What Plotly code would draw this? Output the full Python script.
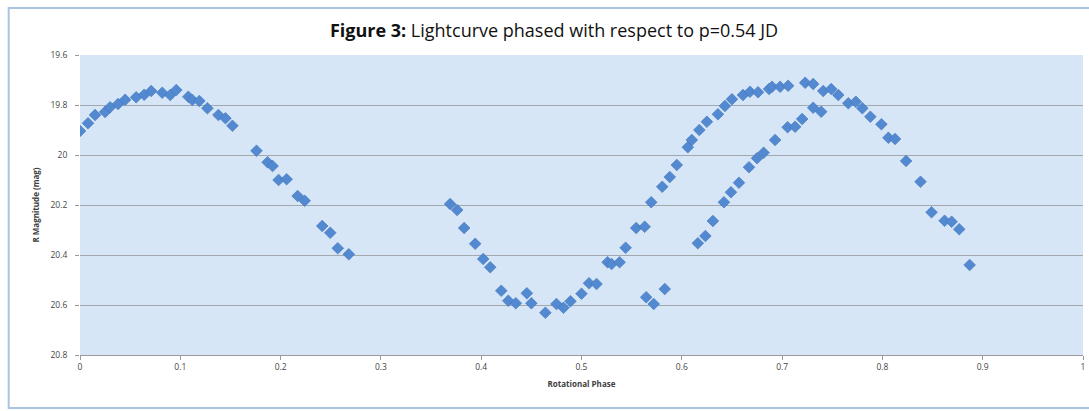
import plotly.graph_objects as go

phase = [0.000, 0.008, 0.015, 0.025, 0.030, 0.038, 0.045, 0.056, 0.064, 0.071, 0.082, 0.090, 0.096,
         0.108, 0.112, 0.119, 0.127, 0.138, 0.145, 0.152,
         0.176, 0.187, 0.192, 0.198, 0.206, 0.217, 0.224, 0.2415, 0.2495, 0.257, 0.268,
         0.369, 0.376, 0.383, 0.394, 0.402, 0.409, 0.420, 0.427, 0.4345, 0.4455, 0.450, 0.464,
         0.475, 0.482, 0.489, 0.500, 0.5075, 0.515, 0.526, 0.530, 0.538, 0.544, 0.5545, 0.563,
         0.5695, 0.5805, 0.588, 0.595, 0.606, 0.610, 0.6175, 0.625, 0.636, 0.643, 0.650, 0.661,
         0.668, 0.676, 0.687, 0.690, 0.698, 0.706, 0.723, 0.731, 0.741, 0.749, 0.756, 0.766,
         0.7735, 0.780, 0.788, 0.799, 0.806, 0.8126, 0.8236, 0.838, 0.849, 0.862, 0.869, 0.8766, 0.887,
         0.5645, 0.572, 0.583, 0.616, 0.6235, 0.631, 0.642, 0.649, 0.657, 0.667, 0.675, 0.6816,
         0.693, 0.7055, 0.713, 0.720, 0.731, 0.739]
magnitude = [19.904, 19.873, 19.840, 19.828, 19.809, 19.796, 19.779, 19.769, 19.759, 19.744, 19.751, 19.760, 19.740,
             19.767, 19.780, 19.784, 19.813, 19.840, 19.853, 19.883,
             19.983, 20.029, 20.044, 20.100, 20.097, 20.164, 20.183, 20.284, 20.311, 20.373, 20.397,
             20.196, 20.220, 20.292, 20.355, 20.416, 20.449, 20.543, 20.583, 20.593, 20.553, 20.593, 20.631,
             20.596, 20.611, 20.585, 20.555, 20.513, 20.516, 20.429, 20.436, 20.429, 20.371, 20.292, 20.287,
             20.189, 20.127, 20.088, 20.040, 19.969, 19.940, 19.900, 19.867, 19.837, 19.804, 19.777, 19.760,
             19.747, 19.749, 19.736, 19.727, 19.727, 19.723, 19.711, 19.716, 19.744, 19.736, 19.760, 19.793,
             19.787, 19.813, 19.847, 19.877, 19.931, 19.936, 20.024, 20.107, 20.229, 20.263, 20.267, 20.297, 20.440,
             20.569, 20.596, 20.536, 20.353, 20.324, 20.264, 20.189, 20.149, 20.111, 20.049, 20.013, 19.991,
             19.940, 19.889, 19.887, 19.856, 19.811, 19.827]

x_ticks = [0, 0.1, 0.2, 0.3, 0.4, 0.5, 0.6, 0.7, 0.8, 0.9, 1]
x_tick_labels = ["0", "0.1", "0.2", "0.3", "0.4", "0.5", "0.6", "0.7", "0.8", "0.9", "1"]
y_ticks = [19.6, 19.8, 20.0, 20.2, 20.4, 20.6, 20.8]
y_tick_labels = ["19.6", "19.8", "20", "20.2", "20.4", "20.6", "20.8"]

fig = go.Figure()
fig.add_trace(go.Scatter(
    x=phase, y=magnitude, mode="markers",
    marker=dict(symbol="diamond", size=9, color="#5289d0",
                line=dict(color="#3f73bb", width=0.6)),
    showlegend=False,
))

fig.update_layout(
    width=1089, height=411,
    margin=dict(l=80, r=4, t=55, b=56),
    paper_bgcolor="white",
    plot_bgcolor="#d6e6f7",
    font=dict(family="Open Sans, Lato, sans-serif", color="#404040", size=8),
    title=dict(
        text="<b>Figure 3:</b> Lightcurve phased with respect to p=0.54 JD",
        x=0.4726, xref="paper", xanchor="center",
        y=0.9246, yref="container", yanchor="middle",
        font=dict(family="Open Sans, Lato, sans-serif", size=18, color="#111111"),
    ),
    xaxis=dict(
        range=[0, 1], tickvals=x_ticks, ticktext=x_tick_labels,
        showgrid=False, zeroline=False,
        showline=True, linecolor="#9a9a9a", linewidth=1,
        ticks="outside", ticklen=4, tickcolor="#9a9a9a",
        ticklabeloverflow="allow",
        tickfont=dict(size=8.5, color="#454545"),
        title=dict(text="<b>Rotational Phase</b>", font=dict(size=8, color="#404040"), standoff=10),
    ),
    yaxis=dict(
        range=[20.8, 19.6], tickvals=y_ticks, ticktext=y_tick_labels,
        showgrid=True, gridcolor="#a3a8ae", gridwidth=1,
        zeroline=False, showline=False,
        ticks="outside", ticklen=4, tickcolor="#9a9a9a",
        ticklabelstandoff=6,
        tickfont=dict(size=8.5, color="#454545"),
        title=dict(text="<b>R Magnitude (mag)</b>", font=dict(size=8, color="#404040"), standoff=9),
    ),
    shapes=[dict(
        type="rect", xref="paper", yref="paper",
        x0=-0.0711, x1=1.02, y0=-0.1767, y1=1.1567,
        line=dict(color="#a9c3e3", width=2), fillcolor="rgba(0,0,0,0)", layer="below",
    )],
)

fig.write_html(
    "out.html",
    config={"displayModeBar": False},
    post_script="document.body.style.margin='0';document.body.style.overflow='hidden';",
)
